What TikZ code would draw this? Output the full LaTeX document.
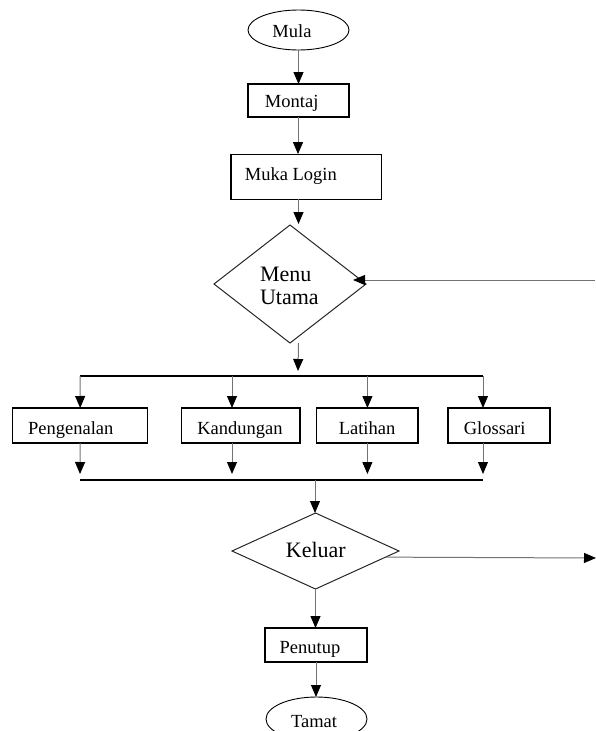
\documentclass[tikz,border=0pt]{standalone}
\usepackage{fontspec}
\setmainfont{Liberation Serif}
\usetikzlibrary{shapes.geometric,arrows.meta,calc}
\begin{document}
\begin{tikzpicture}[x=1pt,y=-1pt,
  every node/.style={inner sep=0pt,outer sep=0pt},
  boxshape/.style={draw=black,line width=1.2pt,rectangle},
  ovalshape/.style={draw=black,line width=0.9pt,ellipse},
  decshape/.style={draw=black!85,line width=1pt,diamond},
  txt/.style={anchor=base,font=\fontsize{18.5}{22}\selectfont},
  bigtxt/.style={anchor=base,font=\fontsize{22}{23}\selectfont},
  conn/.style={draw=black!55,line width=1pt},
  bus/.style={draw=black,line width=1.2pt},
  arr/.style={conn,-{Triangle[width=10pt,length=12pt,color=black]}}
]
\useasboundingbox (0,0) rectangle (596,731);

% shapes
\node[ovalshape,minimum width=101pt,minimum height=40pt] (mula) at (298.5,30) {};
\node[boxshape,minimum width=101pt,minimum height=33pt] (montaj) at (298.5,100.5) {};
\node[boxshape,minimum width=150.5pt,minimum height=45pt] (login) at (306.3,176.6) {};
\node[decshape,minimum width=152pt,minimum height=118pt,aspect=1.288] (menu) at (290,284) {};
\node[boxshape,minimum width=135pt,minimum height=35pt] (peng) at (80.2,425.5) {};
\node[boxshape,minimum width=118.5pt,minimum height=35pt] (kand) at (240.7,425.5) {};
\node[boxshape,minimum width=101.2pt,minimum height=35pt] (lat) at (367.4,425.5) {};
\node[boxshape,minimum width=102pt,minimum height=35pt] (glos) at (499,425.5) {};
\node[decshape,minimum width=167pt,minimum height=76pt,aspect=2.197] (kel) at (315.5,551) {};
\node[boxshape,minimum width=102pt,minimum height=34pt] (pen) at (316,645) {};
\node[ovalshape,minimum width=101pt,minimum height=44pt] (tamat) at (316.5,719) {};

% texts
\node[txt] (mulaT) at (292,37) {Mula};
\node[txt] (montajT) at (291.7,107) {Montaj};
\node[txt] (loginT) at (290.8,180) {Muka Login};
\node[bigtxt,anchor=base west,align=left] (menuT) at (260,304) {Menu\\Utama};
\node[txt] (pengT) at (70.8,434) {Pengenalan};
\node[txt] (kandT) at (240,434) {Kandungan};
\node[txt] (latT) at (367,434) {Latihan};
\node[txt] (glosT) at (494.7,434) {Glossari};
\node[bigtxt] (kelT) at (315.8,557) {Keluar};
\node[txt] (penT) at (310,653) {Penutup};
\node[txt] (tamatT) at (314,727) {Tamat};

% helper coordinates
\coordinate (split) at (298,376);
\coordinate (splitL) at (80,376);
\coordinate (splitR) at (483,376);
\coordinate (joinL) at (80,480);
\coordinate (joinR) at (483,480);
\coordinate (join) at (315,480);
\coordinate (retR) at (595,280);
\coordinate (exitR) at (596,558);

% main flow
\draw[arr] (mula.south -| montaj.south) -- (montaj.north);
\draw[arr] ([xshift=-0.5pt]montaj.south) -- ([xshift=-0.5pt]montaj.south |- login.north);
\draw[arr] (montaj.south |- login.south) -- ([yshift=1pt]montaj.south |- menu.north);
\draw[arr] (montaj.south |- menu.south) -- ([yshift=5pt]split);

% branch bus
\draw[bus] (splitL) -- (splitR);
\draw[arr] (splitL) -- (peng.north);
\draw[arr] (232,376) -- (232,408);
\draw[arr] (lat.north |- splitR) -- (lat.north);
\draw[arr] (splitR) -- (splitR |- glos.north);

\draw[arr] (peng.south) -- ([yshift=6pt]joinL);
\draw[arr] (232,443) -- (232,474);
\draw[arr] (lat.south) -- ([yshift=6pt]lat.south |- joinR);
\draw[arr] (joinR |- glos.south) -- ([yshift=6pt]joinR);
\draw[bus] (joinL) -- (joinR);

\draw[arr] (join) -- (join |- kel.north);
\draw[arr] (kel.south) -- (kel.south |- pen.north);
\draw[arr] (pen.south) -- (pen.south |- tamat.north);

% exits / return
\draw[arr] (kel.-5.9) -- (exitR);
\draw[arr] (retR) -- ([xshift=-13pt]retR -| menu.east);
\end{tikzpicture}
\end{document}
